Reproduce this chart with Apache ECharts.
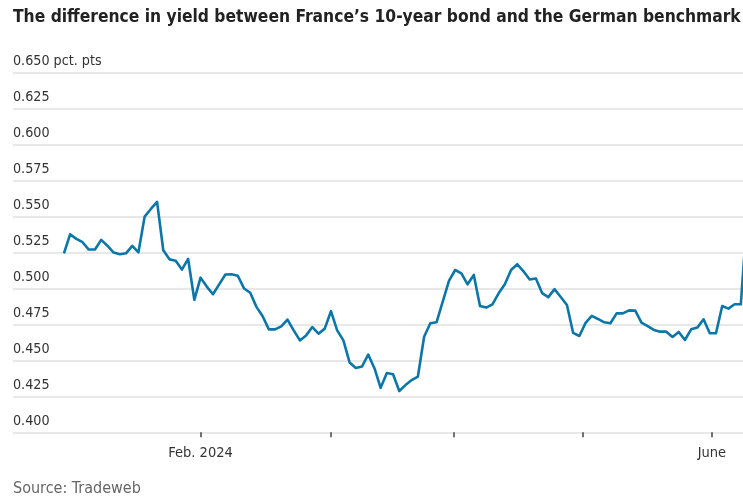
<!DOCTYPE html>
<html>
<head>
<meta charset="utf-8">
<script src="https://cdn.jsdelivr.net/npm/echarts@6/dist/echarts.min.js"></script>
<style>
html,body{margin:0;padding:0;background:#fff;}
#chart{width:743px;height:499px;}
</style>
</head>
<body>
<div id="chart"></div>
<script>
// ---- Data ----
const titleText = 'The difference in yield between France\u2019s 10-year bond and the German benchmark';
const sourceText = 'Source: Tradeweb';
const unitText = 'pct. pts';
const startDate = '2024-01-02';
const endDate = '2024-06-10';
const holidays = ['2024-03-29', '2024-04-01', '2024-05-01', '2024-05-20'];
const spread = [
  0.5243, 0.5375, 0.5343, 0.5320, 0.5269, 0.5269, 0.5336, 0.5296, 0.5248, 0.5236,
  0.5243, 0.5294, 0.5250, 0.5498, 0.5551, 0.5600, 0.5264, 0.5201, 0.5192, 0.5130,
  0.5204, 0.4920, 0.5074, 0.5012, 0.4959, 0.5027, 0.5096, 0.5097, 0.5087, 0.4999,
  0.4969, 0.4871, 0.4806, 0.4715, 0.4715, 0.4736, 0.4783, 0.4708, 0.4638, 0.4673,
  0.4731, 0.4685, 0.4720, 0.4841, 0.4708, 0.4638, 0.4485, 0.4447, 0.4457, 0.4540,
  0.4445, 0.4309, 0.4412, 0.4403, 0.4287, 0.4328, 0.4363, 0.4387, 0.4664, 0.4757,
  0.4764, 0.4907, 0.5051, 0.5127, 0.5104, 0.5028, 0.5093, 0.4877, 0.4866, 0.4889,
  0.4965, 0.5028, 0.5127, 0.5167, 0.5118, 0.5061, 0.5068, 0.4967, 0.4939, 0.4994,
  0.4940, 0.4884, 0.4690, 0.4669, 0.4760, 0.4808, 0.4787, 0.4764, 0.4757, 0.4826,
  0.4826, 0.4847, 0.4845, 0.4762, 0.4738, 0.4711, 0.4699, 0.4699, 0.4662, 0.4697,
  0.4641, 0.4715, 0.4727, 0.4785, 0.4688, 0.4688, 0.4877, 0.4859, 0.4889, 0.4889,
  0.5500
];
const tickDates = ['2024-02-01', '2024-03-01', '2024-04-01', '2024-05-01', '2024-06-01'];
const tickLabels = ['Feb. 2024', '', '', '', 'June'];
const yMin = 0.400, yMax = 0.650, yStep = 0.025;

// ---- Trading-day calendar ----
const DAY = 86400000;
function toMs(s){ return Date.parse(s + 'T00:00:00Z'); }
const tradingDays = [];
for (let t = toMs(startDate); t <= toMs(endDate); t += DAY) {
  const d = new Date(t).getUTCDay();
  const iso = new Date(t).toISOString().slice(0, 10);
  if (d !== 0 && d !== 6 && holidays.indexOf(iso) < 0) tradingDays.push(t);
}
function dateToIndex(s){
  const t = toMs(s);
  for (let i = 0; i < tradingDays.length; i++) {
    if (tradingDays[i] === t) return i;
    if (tradingDays[i] > t) {
      const a = tradingDays[i - 1], b = tradingDays[i];
      return i - 1 + (t - a) / (b - a);
    }
  }
  return tradingDays.length - 1;
}
const tickPos = tickDates.map(dateToIndex);
const seriesData = spread.map((v, i) => [i, v]);

const FONT = "'Liberation Sans Narrow', 'DejaVu Sans Condensed', 'Roboto', sans-serif";

const chart = echarts.init(document.getElementById('chart'), null, {renderer: 'canvas'});
chart.setOption({
  animation: false,
  backgroundColor: '#ffffff',
  title: [
    { text: titleText, left: 13, top: 9, padding: 0,
      textStyle: { fontFamily: FONT, fontSize: 17.3, fontWeight: 'bold', color: '#222222' } },
    { text: sourceText, left: 13, top: 481, padding: 0,
      textStyle: { fontFamily: FONT, fontSize: 16, fontWeight: 'normal', color: '#666666' } }
  ],
  grid: { left: 13, right: 0, top: 72.3, height: 360, containLabel: false },
  xAxis: {
    type: 'value',
    min: -8.2,
    max: 109.35,
    axisLine: { show: false },
    splitLine: { show: false },
    axisTick: { show: true, customValues: tickPos, length: 5, lineStyle: { color: '#444444', width: 1.5 } },
    axisLabel: {
      show: true,
      customValues: tickPos.filter((p, k) => tickLabels[k] !== ''),
      margin: 13,
      fontFamily: FONT, fontSize: 14.5, color: '#333333',
      formatter: function (v) {
        let best = 0, bd = Infinity;
        tickPos.forEach((p, k) => { const d = Math.abs(p - v); if (d < bd) { bd = d; best = k; } });
        return tickLabels[best];
      }
    }
  },
  yAxis: {
    type: 'value',
    min: yMin, max: yMax, interval: yStep,
    axisLine: { show: false },
    axisTick: { show: false },
    splitLine: { show: true, lineStyle: { color: '#e1e1e1', width: 1.5 } },
    axisLabel: {
      inside: true,
      margin: 0,
      align: 'left',
      verticalAlign: 'bottom',
      lineHeight: 22,
      fontFamily: FONT, fontSize: 14.2, color: '#333333',
      formatter: function (v) {
        const s = v.toFixed(3);
        return Math.abs(v - yMax) < 1e-9 ? s + ' ' + unitText : s;
      }
    },
    z: 0
  },
  series: [{
    type: 'line',
    data: seriesData,
    showSymbol: false,
    clip: true,
    lineStyle: { color: '#0b76a8', width: 2.6, join: 'round' },
    itemStyle: { color: '#0b76a8' },
    z: 5
  }]
});
</script>
</body>
</html>
